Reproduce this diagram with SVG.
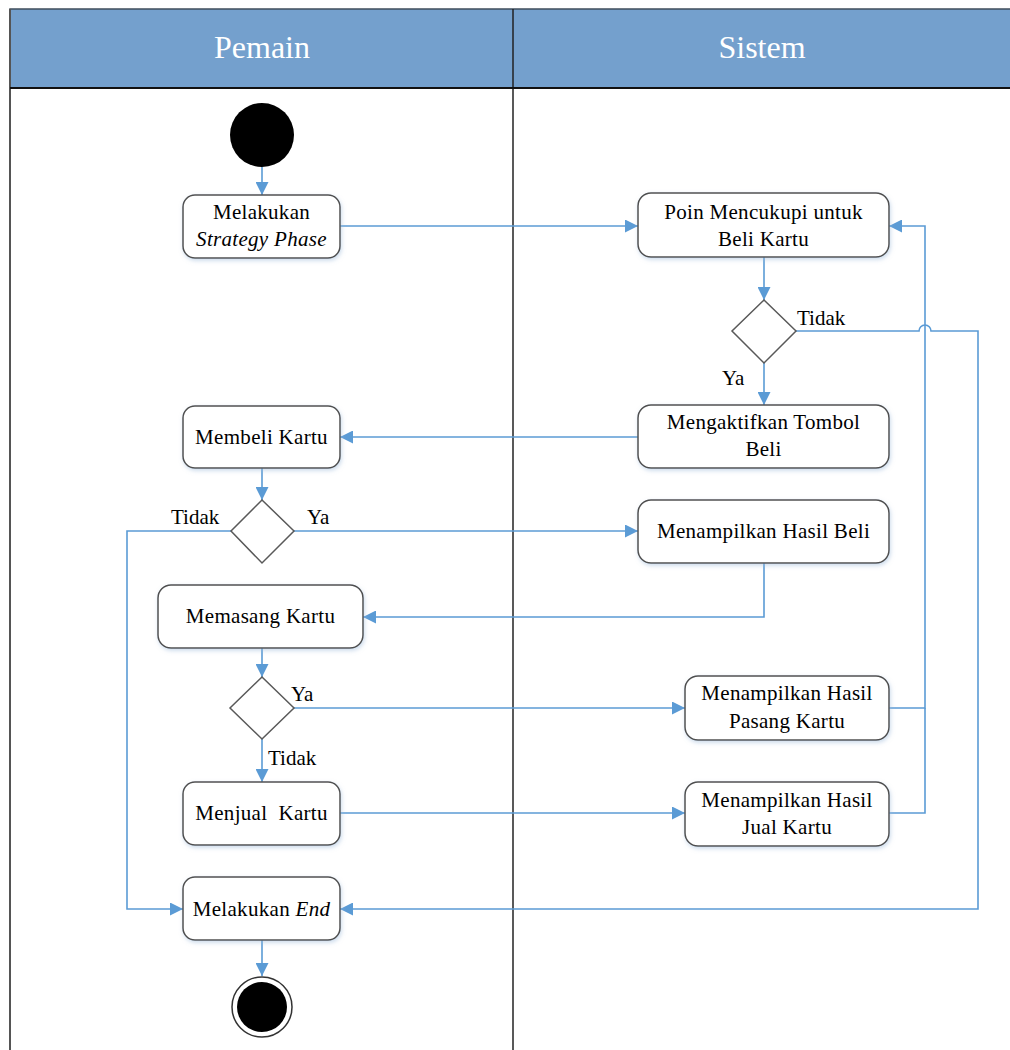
<svg xmlns="http://www.w3.org/2000/svg" width="1010" height="1050" viewBox="0 0 1010 1050">
<style>
.node{fill:#fff;stroke:#505050;stroke-width:1.5;filter:url(#sh)}
.dec{fill:#fff;stroke:#595959;stroke-width:1.5}
.t{font-family:"Liberation Serif","DejaVu Serif","Times New Roman",serif;font-size:21px;letter-spacing:0.3px;fill:#000;text-anchor:middle}
.lbl{font-family:"Liberation Serif","DejaVu Serif","Times New Roman",serif;font-size:21px;fill:#000}
.hd{font-family:"Liberation Serif","DejaVu Serif","Times New Roman",serif;font-size:32px;fill:#fff;text-anchor:middle}
.c{fill:none;stroke:#5B9BD5;stroke-width:1.6}
</style>
<defs>
<marker id="ah" viewBox="0 0 10 10" refX="10" refY="5" markerWidth="13" markerHeight="13" markerUnits="userSpaceOnUse" orient="auto">
<path d="M0,0 L10,5 L0,10 z" fill="#5B9BD5"/>
</marker>
<filter id="sh" x="-10%" y="-10%" width="125%" height="130%">
<feDropShadow dx="1" dy="2" stdDeviation="2" flood-color="#9ab7d8" flood-opacity="0.5"/>
</filter>
</defs>
<rect width="1010" height="1050" fill="#fff"/>
<g id="swimlanes">
<rect x="10" y="9" width="1010" height="79" fill="#74A0CD" stroke="#3f4d5c" stroke-width="1.5"/>
<line x1="10" y1="9" x2="10" y2="1050" stroke="#555" stroke-width="2"/>
<line x1="513" y1="9" x2="513" y2="1050" stroke="#222" stroke-width="1.5"/>
<line x1="10" y1="88" x2="1010" y2="88" stroke="#111" stroke-width="2"/>
<text class="hd" x="262" y="58">Pemain</text>
<text class="hd" x="762" y="58">Sistem</text>
</g>
<g id="connectors">
<path class="c" d="M262,167 V195" marker-end="url(#ah)"/>
<path class="c" d="M340,226 H638" marker-end="url(#ah)"/>
<path class="c" d="M764,257 V300" marker-end="url(#ah)"/>
<path class="c" d="M796,331 H919 A6,6 0 0 1 931,331 H978 V909 H340" marker-end="url(#ah)"/>
<path class="c" d="M764,363 V405" marker-end="url(#ah)"/>
<path class="c" d="M638,437 H340" marker-end="url(#ah)"/>
<path class="c" d="M262,468 V500" marker-end="url(#ah)"/>
<path class="c" d="M294,531 H638" marker-end="url(#ah)"/>
<path class="c" d="M231,531 H127 V909 H183" marker-end="url(#ah)"/>
<path class="c" d="M764,563 V617 H363" marker-end="url(#ah)"/>
<path class="c" d="M262,648 V677" marker-end="url(#ah)"/>
<path class="c" d="M294,708 H685" marker-end="url(#ah)"/>
<path class="c" d="M262,739 V782" marker-end="url(#ah)"/>
<path class="c" d="M340,813 H685" marker-end="url(#ah)"/>
<path class="c" d="M889,708 H925 V226 H889" marker-end="url(#ah)"/>
<path class="c" d="M889,813 H925 V708"/>
<path class="c" d="M262,940 V976" marker-end="url(#ah)"/>
<text class="lbl" x="797" y="325">Tidak</text>
<text class="lbl" x="722" y="385">Ya</text>
<text class="lbl" x="171" y="524">Tidak</text>
<text class="lbl" x="307" y="524">Ya</text>
<text class="lbl" x="291" y="701">Ya</text>
<text class="lbl" x="268" y="765">Tidak</text>
</g>
<g id="start"><circle cx="262" cy="135" r="32" fill="#000"/></g>
<g id="n1"><rect class="node" x="183" y="195" width="157" height="63" rx="12"/>
<text class="t" x="261.5" y="219">Melakukan</text><text class="t" x="261.5" y="246" font-style="italic">Strategy Phase</text></g>
<g id="n2"><rect class="node" x="638" y="193" width="251" height="64" rx="13"/>
<text class="t" x="763.5" y="219">Poin Mencukupi untuk</text><text class="t" x="763.5" y="246">Beli Kartu</text></g>
<g id="d1"><polygon class="dec" points="764,300 796,331 764,363 732,331"/></g>
<g id="n3"><rect class="node" x="638" y="405" width="251" height="63" rx="13"/>
<text class="t" x="763.5" y="429">Mengaktifkan Tombol</text><text class="t" x="763.5" y="456">Beli</text></g>
<g id="n4"><rect class="node" x="183" y="406" width="157" height="62" rx="12"/>
<text class="t" x="261.5" y="444">Membeli Kartu</text></g>
<g id="d2"><polygon class="dec" points="262,500 294,531 262,563 231,531"/></g>
<g id="n5"><rect class="node" x="638" y="500" width="251" height="63" rx="13"/>
<text class="t" x="763.5" y="538">Menampilkan Hasil Beli</text></g>
<g id="n6"><rect class="node" x="158" y="585" width="205" height="63" rx="13"/>
<text class="t" x="260.5" y="623">Memasang Kartu</text></g>
<g id="d3"><polygon class="dec" points="262,677 294,708 262,739 230,708"/></g>
<g id="n7"><rect class="node" x="685" y="676" width="204" height="64" rx="13"/>
<text class="t" x="787" y="700">Menampilkan Hasil</text><text class="t" x="787" y="728">Pasang Kartu</text></g>
<g id="n8"><rect class="node" x="183" y="782" width="157" height="63" rx="12"/>
<text class="t" x="261.5" y="820" xml:space="preserve">Menjual  Kartu</text></g>
<g id="n9"><rect class="node" x="685" y="782" width="204" height="64" rx="13"/>
<text class="t" x="787" y="807">Menampilkan Hasil</text><text class="t" x="787" y="834">Jual Kartu</text></g>
<g id="n10"><rect class="node" x="183" y="877" width="157" height="63" rx="12"/>
<text class="t" x="261.5" y="916">Melakukan <tspan font-style="italic">End</tspan></text></g>
<g id="end"><circle cx="262" cy="1007" r="30" fill="#fff" stroke="#333" stroke-width="1.5"/><circle cx="262" cy="1007" r="25" fill="#000"/></g>
</svg>
